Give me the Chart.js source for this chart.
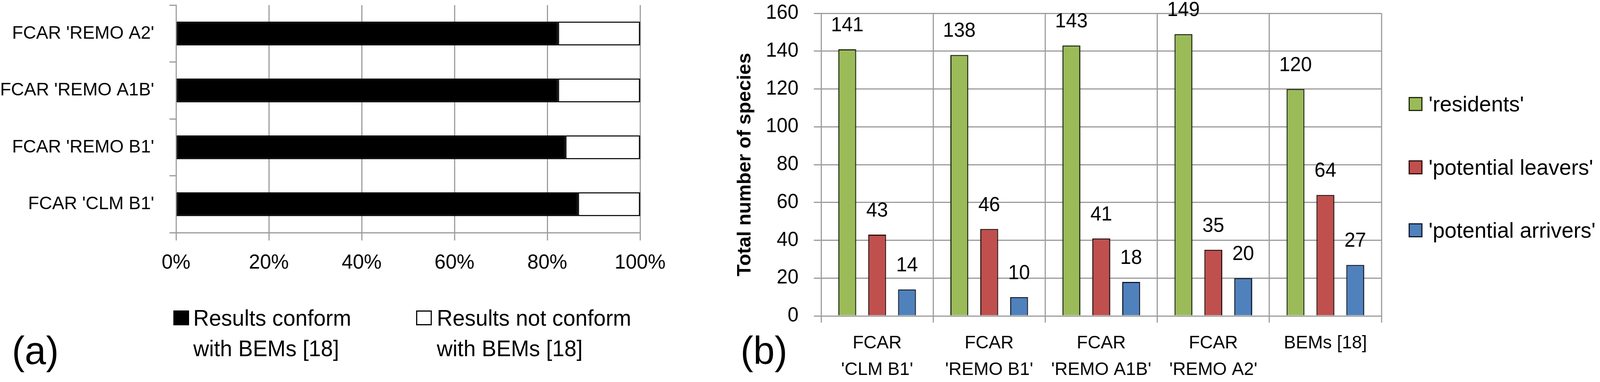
<!DOCTYPE html>
<html>
<head>
<meta charset="utf-8">
<script src="https://cdn.jsdelivr.net/npm/chart.js@4.4.1/dist/chart.umd.min.js"></script>
<style>
  html, body { margin: 0; padding: 0; background: #fff; overflow: hidden; }
  body { font-family: 'Liberation Sans', Arial, sans-serif; color: #000; }
  #stage { position: absolute; left: 0; top: 0; width: 4172px; height: 977px; overflow: hidden;
           transform-origin: 0 0; background: #fff; }
  canvas { position: absolute; }
  #chartA { left: 0; top: -100px; width: 1780px; height: 880px; }
  #chartB { left: 1880px; top: -100px; width: 1780px; height: 1070px; }
  .txt { position: absolute; white-space: nowrap; }
  .sq { position: absolute; box-sizing: border-box; }
</style>
</head>
<body>
<div id="stage">
  <canvas id="chartA" width="1780" height="880"></canvas>
  <canvas id="chartB" width="1780" height="1070"></canvas>

  <!-- panel (a) legend -->
  <div class="sq" style="left:452px; top:794px; width:41px; height:38px; background:#000;"></div>
  <div class="txt" style="left:504px; top:774px; font-size:57px; line-height:78px;">Results conform<br>with BEMs [18]</div>
  <div class="sq" style="left:1085px; top:794px; width:41px; height:38px; background:#fff; border:3px solid #000;"></div>
  <div class="txt" style="left:1139px; top:774px; font-size:57px; line-height:78px;">Results not conform<br>with BEMs [18]</div>
  <div class="txt" style="left:31px; top:846px; font-size:100px; line-height:1;">(a)</div>

  <!-- panel (b) legend -->
  <div id="legendB"></div>
  <div class="txt" style="left:1931px; top:846px; font-size:100px; line-height:1;">(b)</div>
</div>

<script>
// panel (a): share of results conforming with BEMs
var scenarioLabels = ["FCAR 'CLM B1'", "FCAR 'REMO B1'", "FCAR 'REMO A1B'", "FCAR 'REMO A2'"];
var conformPct = [86.6, 83.9, 82.3, 82.3];
var notConformPct = [13.4, 16.1, 17.7, 17.7];
var pctTicks = [0, 20, 40, 60, 80, 100];

// panel (b): species counts
var groupLabels = [["FCAR", "'CLM B1'"], ["FCAR", "'REMO B1'"], ["FCAR", "'REMO A1B'"], ["FCAR", "'REMO A2'"], "BEMs [18]"];
var residents = [141, 138, 143, 149, 120];
var leavers = [43, 46, 41, 35, 64];
var arrivers = [14, 10, 18, 20, 27];
var seriesNames = ["'residents'", "'potential leavers'", "'potential arrivers'"];
var seriesColors = ['#9BBB59', '#C0504D', '#4F81BD'];
var seriesBorders = ['#1f2a10', '#2e100f', '#101c2e'];

// the figure is laid out at 4172 px wide; squeeze it into the viewport if that is narrower
var stage = document.getElementById('stage');
var sx = Math.min(1, window.innerWidth / 4172);
stage.style.transform = 'scale(' + sx + ', 1)';

Chart.defaults.font.family = "'Liberation Sans', Arial, sans-serif";
Chart.defaults.color = '#000';

var gridGray = '#9c9c9c';

new Chart(document.getElementById('chartA'), {
  type: 'bar',
  data: {
    labels: scenarioLabels,
    datasets: [{
      label: 'Results conform with BEMs [18]',
      data: conformPct,
      backgroundColor: '#000',
      borderColor: '#000',
      borderWidth: 3,
      borderSkipped: false
    }, {
      label: 'Results not conform with BEMs [18]',
      data: notConformPct,
      backgroundColor: '#fff',
      borderColor: '#000',
      borderWidth: 3,
      borderSkipped: false
    }]
  },
  options: {
    indexAxis: 'y',
    responsive: false,
    animation: false,
    devicePixelRatio: 1,
    layout: { padding: { left: 0, top: 113, right: 111, bottom: 0 } },
    plugins: { legend: { display: false }, tooltip: { enabled: false } },
    datasets: { bar: { categoryPercentage: 1.0, barPercentage: 0.42 } },
    scales: {
      x: {
        stacked: true,
        min: 0,
        max: 100,
        afterBuildTicks: function (scale) {
          scale.ticks = pctTicks.map(function (v) { return { value: v }; });
        },
        ticks: {
          font: { size: 52 },
          padding: 26,
          callback: function (v) { return v + '%'; }
        },
        grid: { color: gridGray, lineWidth: 3, tickLength: 20 },
        border: { display: true, color: gridGray, width: 3 },
        afterFit: function (scale) { scale.height = 185; }
      },
      y: {
        stacked: true,
        reverse: true,
        ticks: { font: { size: 47 }, padding: 40 },
        grid: { drawOnChartArea: false, color: gridGray, lineWidth: 3, tickLength: 17 },
        border: { display: true, color: gridGray, width: 3 },
        afterFit: function (scale) { scale.width = 459; }
      }
    }
  }
});

var valueLabels = {
  id: 'valueLabels',
  afterDatasetsDraw: function (chart) {
    var ctx = chart.ctx;
    ctx.save();
    ctx.font = "51px 'Liberation Sans', Arial, sans-serif";
    ctx.fillStyle = '#000';
    ctx.textAlign = 'center';
    ctx.textBaseline = 'middle';
    chart.data.datasets.forEach(function (ds, i) {
      chart.getDatasetMeta(i).data.forEach(function (bar, j) {
        ctx.fillText(ds.data[j], bar.x, bar.y - 60);
      });
    });
    ctx.restore();
  }
};

var seriesData = [residents, leavers, arrivers];

new Chart(document.getElementById('chartB'), {
  type: 'bar',
  data: {
    labels: groupLabels,
    datasets: seriesData.map(function (d, i) {
      return {
        label: seriesNames[i],
        data: d,
        backgroundColor: seriesColors[i],
        borderColor: seriesBorders[i],
        borderWidth: 3,
        borderSkipped: 'bottom'
      };
    })
  },
  plugins: [valueLabels],
  options: {
    responsive: false,
    animation: false,
    devicePixelRatio: 1,
    layout: { padding: { left: 0, top: 134, right: 58, bottom: 0 } },
    plugins: { legend: { display: false }, tooltip: { enabled: false } },
    datasets: { bar: { categoryPercentage: 0.8, barPercentage: 0.6 } },
    scales: {
      x: {
        ticks: { font: { size: 47, lineHeight: 1.45 }, padding: 19, maxRotation: 0, autoSkip: false },
        grid: { color: gridGray, lineWidth: 3, tickLength: 17 },
        border: { display: true, color: gridGray, width: 3 },
        afterFit: function (scale) { scale.height = 162; }
      },
      y: {
        min: 0,
        max: 160,
        ticks: { stepSize: 20, font: { size: 51 }, padding: 40 },
        grid: { color: gridGray, lineWidth: 3, tickLength: 19 },
        border: { display: true, color: gridGray, width: 3 },
        title: {
          display: true,
          text: 'Total number of species',
          font: { size: 50, weight: 'bold' },
          padding: { top: 33, bottom: 0 }
        },
        afterFit: function (scale) { scale.width = 261; }
      }
    }
  }
});

// legend for panel (b)
var legendY = [266, 428, 589];
var legendHtml = '';
seriesNames.forEach(function (name, i) {
  legendHtml += '<div class="sq" style="left:3673px; top:' + (legendY[i] - 18) + 'px; width:36px; height:36px; background:' +
    seriesColors[i] + '; border:3px solid ' + seriesBorders[i] + ';"></div>';
  legendHtml += '<div class="txt" style="left:3725px; top:' + (legendY[i] - 28) + 'px; font-size:56px; line-height:56px;">' +
    name + '</div>';
});
document.getElementById('legendB').innerHTML = legendHtml;
</script>
</body>
</html>
